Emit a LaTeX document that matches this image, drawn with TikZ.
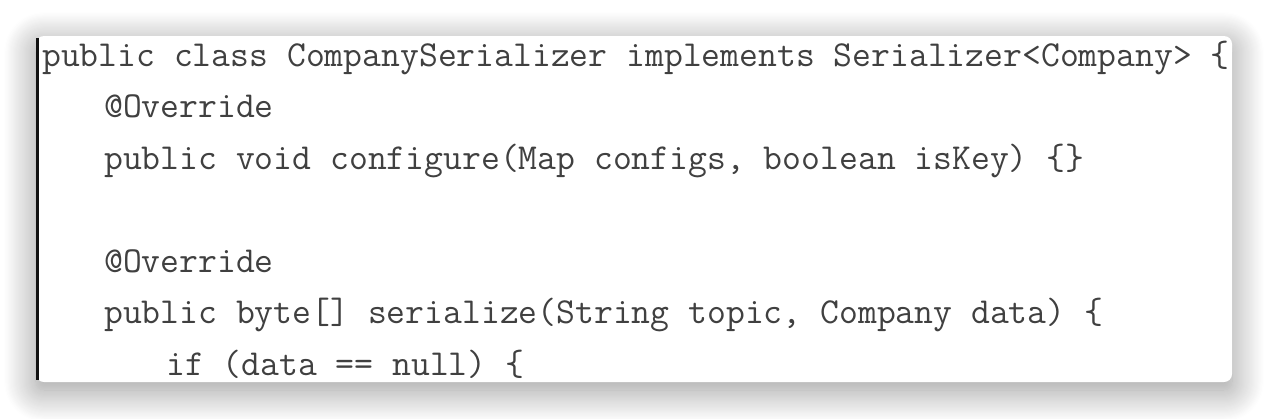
\documentclass[tikz,border=0pt]{standalone}
\usepackage{xcolor}
\usepackage{tikz}
\usetikzlibrary{shadows.blur}
\definecolor{code}{HTML}{404040}
\definecolor{edge}{HTML}{111111}

\begin{document}
\begin{tikzpicture}[x=1pt, y=-1pt,
  codeline/.style={anchor=base west, inner sep=0pt, text=code,
    font=\ttfamily\fontsize{36.6}{36.6}\selectfont}]
\useasboundingbox (0,0) rectangle (1268,418);
% the card with its soft shadow
\path[fill=white, rounded corners=8pt,
  blur shadow={shadow xshift=0pt, shadow yshift=-8pt,
    shadow blur radius=32pt, shadow opacity=42, shadow blur steps=30}]
  (36,36) rectangle (1232,382);
\draw[edge, line width=3pt] (37.5,38) -- (37.5,380);

% the code, cut off at the bottom of the card
\begin{scope}
\clip[rounded corners=8pt] (36,36) rectangle (1232,382);
\node[codeline] (classline) at (42,66)
  {public class CompanySerializer implements Serializer<Company> \{};
\node[codeline] (override1) at (104,117.5) {@Override};
\node[codeline] (configure) at (104,169)
  {public void configure(Map configs, boolean isKey) \{\}};
\node[codeline] (override2) at (104,272) {@Override};
\node[codeline] (serialize) at (104,323.5)
  {public byte[] serialize(String topic, Company data) \{};
\node[codeline] (nullcheck) at (166,375) {if (data == null) \{};
\end{scope}

\end{tikzpicture}
\end{document}
